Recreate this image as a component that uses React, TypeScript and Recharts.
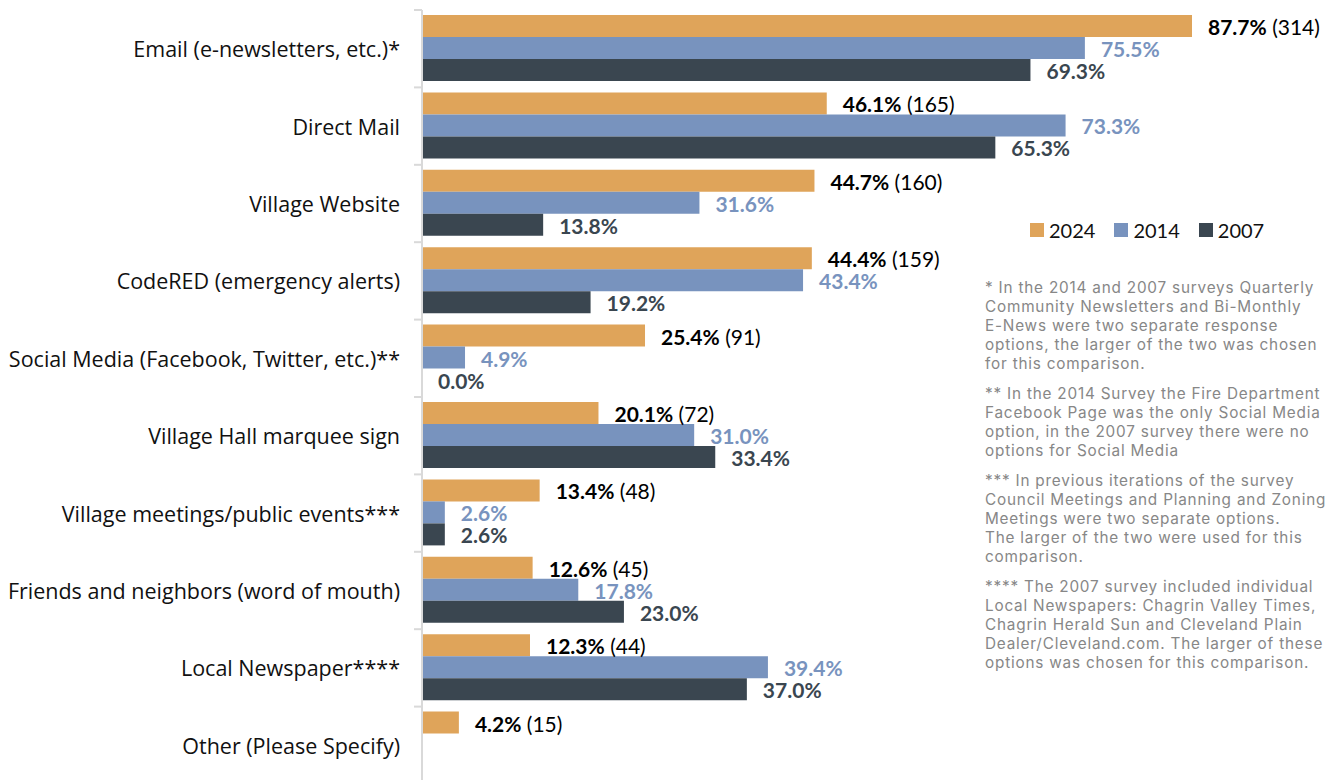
import { BarChart, Bar, XAxis, YAxis, LabelList, Legend } from "recharts";

const categories = [
  "Email (e-newsletters, etc.)*",
  "Direct Mail",
  "Village Website",
  "CodeRED (emergency alerts)",
  "Social Media (Facebook, Twitter, etc.)**",
  "Village Hall marquee sign",
  "Village meetings/public events***",
  "Friends and neighbors (word of mouth)",
  "Local Newspaper****",
  "Other (Please Specify)",
];

const pct2024 = [87.7, 46.1, 44.7, 44.4, 25.4, 20.1, 13.4, 12.6, 12.3, 4.2];
const count2024 = [314, 165, 160, 159, 91, 72, 48, 45, 44, 15];
const pct2014 = [75.5, 73.3, 31.6, 43.4, 4.9, 31.0, 2.6, 17.8, 39.4, null];
const pct2007 = [69.3, 65.3, 13.8, 19.2, 0.0, 33.4, 2.6, 23.0, 37.0, null];

const series = [
  { key: "y2024", label: "2024", color: "#DFA45A" },
  { key: "y2014", label: "2014", color: "#7893BE" },
  { key: "y2007", label: "2007", color: "#3A4650" },
];

const footnotes = [
  [
    "* In the 2014 and 2007 surveys Quarterly",
    "Community Newsletters and Bi-Monthly",
    "E-News were two separate response",
    "options, the larger of the two was chosen",
    "for this comparison.",
  ],
  [
    "** In the 2014 Survey the Fire Department",
    "Facebook Page was the only Social Media",
    "option, in the 2007 survey there were no",
    "options for Social Media",
  ],
  [
    "*** In previous iterations of the survey",
    "Council Meetings and Planning and Zoning",
    "Meetings were two separate options.",
    "The larger of the two were used for this",
    "comparison.",
  ],
  [
    "**** The 2007 survey included individual",
    "Local Newspapers: Chagrin Valley Times,",
    "Chagrin Herald Sun and Cleveland Plain",
    "Dealer/Cleveland.com. The larger of these",
    "options was chosen for this comparison.",
  ],
];

const fmt = (v: number | null) => (v == null ? null : `${v.toFixed(1)}%`);

const data = categories.map((c, i) => ({
  category: c,
  y2024: pct2024[i],
  y2014: pct2014[i],
  y2007: pct2007[i],
  lab2024: `${fmt(pct2024[i])}|(${count2024[i]})`,
  lab2014: fmt(pct2014[i]),
  lab2007: fmt(pct2007[i]),
}));

const labelFont = "Lato, 'Open Sans', sans-serif";
const catFont = "'Open Sans', 'Noto Sans', sans-serif";

function CategoryTick(props: any) {
  const { x, y, payload, index } = props;
  const half = payload?.offset ?? 38.7;
  return (
    <g>
      <line x1={x - 8} x2={x} y1={y - half} y2={y - half} stroke="#D9D9D9" strokeWidth={2} />
      {index === categories.length - 1 && (
        <line x1={x - 8} x2={x} y1={y + half} y2={y + half} stroke="#D9D9D9" strokeWidth={2} />
      )}
      <text x={x - 22} y={y} textAnchor="end" dominantBaseline="central" fontFamily={catFont} fontSize={21.5} fill="#111">
        {payload.value}
      </text>
    </g>
  );
}

function makeLabel(color: string, withCount: boolean) {
  return (props: any) => {
    const { x, y, width, height, value } = props;
    if (value == null) return null;
    const [pct, cnt] = String(value).split("|");
    return (
      <text
        x={Number(x) + Number(width) + 16}
        y={Number(y) + Number(height) / 2}
        dominantBaseline="central"
        fontFamily={labelFont}
        fontSize={21}
        fill={color}
      >
        <tspan fontWeight={700}>{pct}</tspan>
        {withCount && cnt && <tspan fontWeight={400}> {cnt}</tspan>}
      </text>
    );
  };
}

function LegendContent() {
  return (
    <div style={{ display: "flex", gap: 19, fontFamily: labelFont, fontSize: 20, color: "#111" }}>
      {series.map((s) => (
        <div key={s.key} style={{ display: "flex", alignItems: "center", gap: 5 }}>
          <span style={{ width: 14, height: 14, background: s.color, display: "inline-block" }} />
          <span>{s.label}</span>
        </div>
      ))}
    </div>
  );
}

export default function App() {
  return (
    <div style={{ position: "fixed", left: 0, top: 0, width: 1339, height: 780, overflow: "hidden", background: "#fff" }}>
      <BarChart
        width={1339}
        height={800}
        data={data}
        layout="vertical"
        margin={{ top: 10, right: 39, bottom: 16, left: 0 }}
        barCategoryGap={5}
        barGap={0}
      >
        <XAxis type="number" domain={[0, 100]} hide />
        <YAxis
          type="category"
          dataKey="category"
          width={422}
          axisLine={{ stroke: "#D9D9D9", strokeWidth: 2 }}
          tickLine={false}
          tickSize={0}
          tickMargin={0}
          interval={0}
          tick={<CategoryTick />}
        />
        <Legend
          layout="horizontal"
          verticalAlign="middle"
          align="center"
          wrapperStyle={{ left: 1030, top: 218, width: 300, height: 28 }}
          content={<LegendContent />}
        />
        <Bar dataKey="y2024" fill={series[0].color} isAnimationActive={false}>
          <LabelList dataKey="lab2024" content={makeLabel("#000", true)} />
        </Bar>
        <Bar dataKey="y2014" fill={series[1].color} isAnimationActive={false}>
          <LabelList dataKey="lab2014" content={makeLabel("#7893BE", false)} />
        </Bar>
        <Bar dataKey="y2007" fill={series[2].color} minPointSize={0.01} isAnimationActive={false}>
          <LabelList dataKey="lab2007" content={makeLabel("#3A4650", false)} />
        </Bar>
      </BarChart>
      <div
        style={{
          position: "absolute",
          left: 985,
          top: 278,
          fontFamily: "Inter, 'Open Sans', sans-serif",
          fontSize: 15.3,
          letterSpacing: 0.8,
          lineHeight: "19px",
          color: "#878787",
          whiteSpace: "nowrap",
        }}
      >
        {footnotes.map((para, i) => (
          <div key={i} style={{ marginBottom: 11 }}>
            {para.map((line, j) => (
              <div key={j}>{line}</div>
            ))}
          </div>
        ))}
      </div>
    </div>
  );
}
